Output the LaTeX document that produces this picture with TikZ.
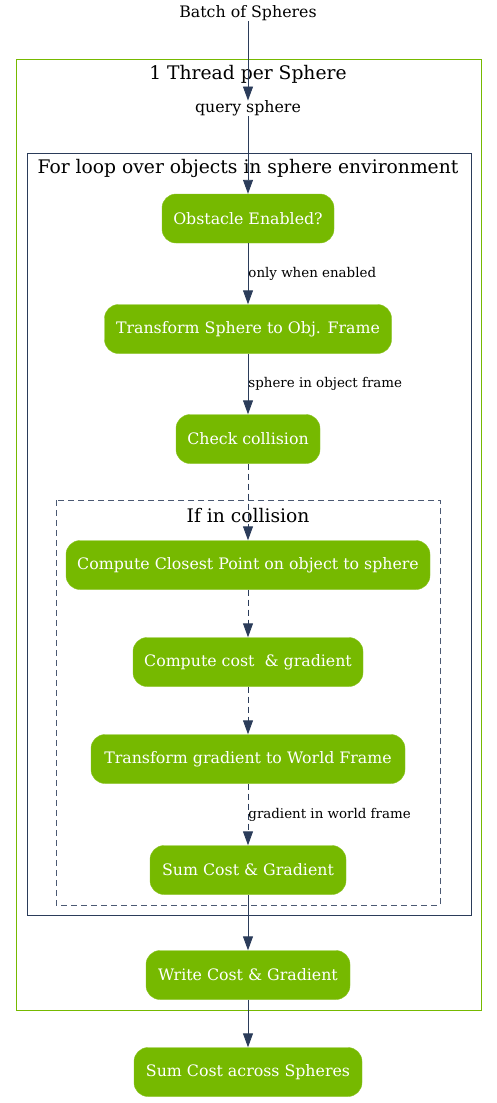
\documentclass[tikz,border=0pt]{standalone}
\usepackage{fontspec}
\setmainfont{DejaVu Serif}
\usetikzlibrary{arrows.meta}
\definecolor{nvgreen}{HTML}{76B900}
\definecolor{navy}{HTML}{2B3C5A}
\tikzset{
  stepbox/.style={draw=nvgreen!85!white, fill=nvgreen, rounded corners=14pt, text=white,
    minimum height=49pt, inner sep=0pt, font=\fontsize{15.8}{18}\selectfont},
  plain/.style={inner sep=0pt, font=\fontsize{15.8}{18}\selectfont},
  title/.style={inner sep=0pt, font=\fontsize{18.7}{22}\selectfont},
  elabel/.style={inner sep=0pt, anchor=west, yshift=-1.5pt, font=\fontsize{13.4}{15}\selectfont},
  flow/.style={draw=navy, line width=0.9pt, -{Triangle[length=14pt,width=10pt]}},
  dflow/.style={flow, dash pattern=on 6pt off 4pt},
}
\begin{document}
\begin{tikzpicture}[x=1pt,y=-1pt]
\useasboundingbox (0,0) rectangle (497,1103);
% clusters
\draw[nvgreen, line width=0.9pt] (16,59) rectangle (481,1010);
\node[title] (t1) at (248,74.5) {1 Thread per Sphere};
\draw[navy, line width=0.9pt] (27,153) rectangle (471,915);
\node[title] (t2) at (248,168.5) {For loop over objects in sphere environment};
\draw[navy!85, line width=0.9pt, dash pattern=on 6pt off 4pt] (56,500) rectangle (440,905);
\node[title] (t3) at (248,515.5) {If in collision};
% nodes
\node[plain] (batch) at (248,13.5) {Batch of Spheres};
\node[plain] (query) at (248,108.5) {query sphere};
\node[stepbox, minimum width=172pt] (obs) at (248,218.5) {Obstacle Enabled?};
\node[stepbox, minimum width=287pt] (tr) at (248,329) {Transform Sphere to Obj. Frame};
\node[stepbox, minimum width=144pt] (chk) at (248,439) {Check collision};
\node[stepbox, minimum width=364pt] (cp) at (248,565) {Compute Closest Point on object to sphere};
\node[stepbox, minimum width=230pt] (cc) at (248,662) {Compute cost~ \& gradient};
\node[stepbox, minimum width=314pt] (tg) at (248,759) {Transform gradient to World Frame};
\node[stepbox, minimum width=196pt] (sc) at (248,870) {Sum Cost \& Gradient};
\node[stepbox, minimum width=204pt] (wc) at (248,975) {Write Cost \& Gradient};
\node[stepbox, minimum width=228pt] (sa) at (248,1072) {Sum Cost across Spheres};
% edges
\draw[flow] (batch) -- (query);
\draw[flow] (query) -- (obs);
\draw[flow] (obs) -- node[elabel, pos=0.48] (l1) {only when enabled} (tr);
\draw[flow] (tr) -- node[elabel, pos=0.48] (l2) {sphere in object frame} (chk);
\draw[dflow] (chk) -- (cp);
\draw[dflow] (cp) -- (cc);
\draw[dflow] (cc) -- (tg);
\draw[dflow] (tg) -- node[elabel, pos=0.48] (l3) {gradient in world frame} (sc);
\draw[flow] (sc) -- (wc);
\draw[flow] (wc) -- (sa);
\end{tikzpicture}
\end{document}
